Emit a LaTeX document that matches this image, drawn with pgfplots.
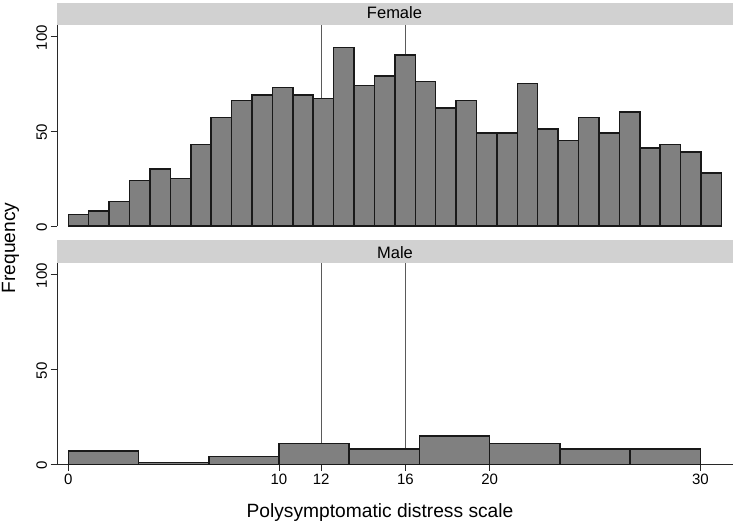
\documentclass[border=0pt]{standalone}
\usepackage{pgfplots}
\pgfplotsset{compat=1.18}
\usepackage{fontspec}
\setmainfont{Liberation Sans}
\definecolor{barfill}{RGB}{128,128,128}
\definecolor{barline}{RGB}{25,25,25}
\definecolor{stripfill}{RGB}{209,209,209}
\definecolor{refline}{RGB}{90,90,90}
\definecolor{axline}{RGB}{40,40,40}

\pgfplotstableread{
x y
0.0 6
0.96875 8
1.9375 13
2.90625 24
3.875 30
4.84375 25
5.8125 43
6.78125 57
7.75 66
8.71875 69
9.6875 73
10.65625 69
11.625 67
12.59375 94
13.5625 74
14.53125 79
15.5 90
16.46875 76
17.4375 62
18.40625 66
19.375 49
20.34375 49
21.3125 75
22.28125 51
23.25 45
24.21875 57
25.1875 49
26.15625 60
27.125 41
28.09375 43
29.0625 39
30.03125 28
31.0 28
}\female

\pgfplotstableread{
x y
0.0 7
3.33333 1
6.66667 4
10.0 11
13.33333 8
16.66667 15
20.0 11
23.33333 8
26.66667 8
30.0 8
}\male

\newcommand{\tickfont}{\fontsize{15bp}{17bp}\selectfont}

\pgfplotsset{
  panel/.style={
    scale only axis, width=676bp, height=201bp,
    xmin=-0.536, xmax=31.55, ymin=0, ymax=105.8,
    axis y line*=left, axis x line*=bottom,
    ytick={0,50,100},
    tick align=outside, major tick length=6.5bp,
    tick style={axline, line width=0.7bp},
    axis line style={axline, line width=0.7bp, -},
    /pgf/number format/assume math mode=true,
    every tick label/.append style={font=\tickfont},
    xticklabel style={font=\tickfont},
    yticklabel style={font=\tickfont, rotate=90, anchor=south, xshift=-1.5bp},
    clip=false,
  },
  bars/.style={ybar interval, fill=barfill, draw=barline, line width=1.5bp},
  refl/.style={refline, line width=0.9bp, forget plot},
}

\begin{document}
\begin{tikzpicture}
\path[use as bounding box] (0,0) rectangle (734bp,523bp);

% strips
\fill[stripfill] (57bp,498bp) rectangle (733bp,520.3bp);
\node[anchor=base, font=\fontsize{16.5bp}{19bp}\selectfont] at (394.5bp,504bp) {Female};
\fill[stripfill] (57bp,259.7bp) rectangle (733bp,283bp);
\node[anchor=base, font=\fontsize{16.5bp}{19bp}\selectfont] at (395bp,264.7bp) {Male};

\begin{axis}[panel, at={(57bp,297bp)}, anchor=south west, hide x axis]
\addplot[refl] coordinates {(12,0) (12,105.8)};
\addplot[refl] coordinates {(16,0) (16,105.8)};
\addplot[bars] table[x=x,y=y] {\female};
\end{axis}

\begin{axis}[panel, at={(57bp,58.7bp)}, anchor=south west,
  xtick={0,10,12,16,20,30}]
\addplot[refl] coordinates {(12,0) (12,105.8)};
\addplot[refl] coordinates {(16,0) (16,105.8)};
\addplot[bars] table[x=x,y=y] {\male};
\end{axis}

\node[rotate=90, anchor=base, font=\fontsize{19.2bp}{22bp}\selectfont] at (15bp,275bp) {Frequency};
\node[anchor=base, font=\fontsize{19.2bp}{22bp}\selectfont] at (380bp,6bp) {Polysymptomatic distress scale};
\end{tikzpicture}
\end{document}
